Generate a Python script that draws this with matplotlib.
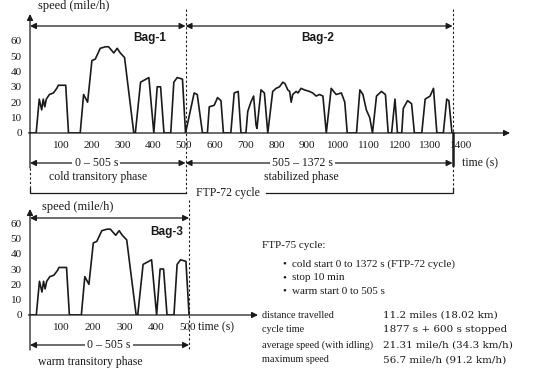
import numpy as np
import matplotlib.pyplot as plt

plt.rcParams['font.family'] = ['Liberation Serif', 'DejaVu Serif']

# speed trace (time in s, speed in mile/h)
bag1_t = [0, 20, 30, 38, 43, 48, 53, 63, 76, 87, 92, 116, 125, 163, 174, 187, 201, 212, 228, 245,
          255, 272, 283, 293, 307, 337, 342, 359, 386, 402, 413, 424, 435, 457, 467, 478, 495, 505]
bag1_v = [0, 0, 22, 15, 22, 17, 22, 25, 26, 29, 31, 31, 0, 0, 25, 20, 47, 48, 55, 56,
          56, 52, 55, 52, 49, 0, 0, 33, 36, 0, 30, 30, 0, 0, 33, 36, 35, 0]
bag2_t = [505, 533, 543, 560, 576, 582, 598, 609, 620, 628, 652, 663, 676, 685, 701, 707, 717, 726, 734, 737,
          750, 761, 772, 788, 799, 810, 821, 828, 837, 843, 848, 853, 864, 870, 880, 891, 907, 918, 929, 940,
          951, 962, 978, 994, 1011, 1022, 1030, 1060, 1071, 1081, 1092, 1103, 1112, 1125, 1141, 1154, 1163, 1174, 1185, 1193,
          1207, 1212, 1226, 1239, 1248, 1272, 1283, 1299, 1310, 1321, 1342, 1353, 1360, 1370, 1372]
bag2_v = [0, 26, 25, 0, 0, 17, 18, 23, 21, 0, 0, 26, 27, 0, 0, 14, 20, 24, 5, 3,
          28, 26, 0, 27, 29, 30, 33, 32, 28, 27, 20, 25, 27, 26, 29, 28, 27, 26, 24, 25,
          24, 0, 29, 25, 26, 20, 0, 0, 28, 25, 15, 10, 0, 24, 27, 25, 0, 0, 22, 0,
          0, 16, 21, 19, 0, 0, 22, 24, 29, 0, 0, 22, 21, 0, 0]

xticks_top = [100, 200, 300, 400, 500, 600, 700, 800, 900, 1000, 1100, 1200, 1300, 1400]
xticks_bot = [100, 200, 300, 400, 500]
yticks = [0, 10, 20, 30, 40, 50, 60]

info_rows = [("distance travelled", "11.2 miles (18.02 km)"),
             ("cycle time", "1877 s + 600 s stopped"),
             ("average speed (with idling)", "21.31 mile/h (34.3 km/h)"),
             ("maximum speed", "56.7 mile/h (91.2 km/h)")]
bullets = ["cold start 0 to 1372 s (FTP-72 cycle)", "stop 10 min", "warm start 0 to 505 s"]

W, H = 541, 368
fig = plt.figure(figsize=(W / 100, H / 100), dpi=100)
ink = '#1a1a1a'
fs = 8.5
fst = 8


def px_axes(x0, y0, x1, y1):
    return fig.add_axes([x0 / W, 1 - y1 / H, (x1 - x0) / W, (y1 - y0) / H])


def setup(ax, xt):
    for s in ax.spines.values():
        s.set_visible(False)
    ax.set_xticks(xt)
    ax.set_yticks(yticks)
    ax.tick_params(length=0, labelsize=fst, colors=ink)
    ax.tick_params(axis='x', pad=6)
    ax.tick_params(axis='y', pad=6)
    ax.patch.set_alpha(0)


def arrow(ax, x0, y0, x1, y1, style='-|>', lw=0.9, ls='-'):
    ax.annotate('', xy=(x1, y1), xytext=(x0, y0), xycoords='data', annotation_clip=False,
                arrowprops=dict(arrowstyle=style, color=ink, lw=lw, ls=ls,
                                mutation_scale=9, shrinkA=0, shrinkB=0))


def line(ax, xs, ys, lw=0.9, ls='-'):
    ax.plot(xs, ys, color=ink, lw=lw, ls=ls, clip_on=False)


bag_font = dict(family='Liberation Sans', weight='bold', fontsize=8.5,
                ha='center', va='center', color=ink)

# ---------------- top: FTP-72 ----------------
ax1 = px_axes(30, 14, 510, 133)
ax1.set_xlim(0, 480 / 0.308)
ax1.set_ylim(0, 119 / 1.54)
setup(ax1, xticks_top)
ax1.plot(bag1_t, bag1_v, color=ink, lw=1.2)
ax1.plot(bag2_t, bag2_v, color=ink, lw=1.2)

def vt(ypx):
    return (133 - ypx) / 1.54

arrow(ax1, -5, 0, 480 / 0.308, 0)
arrow(ax1, 0, vt(168), 0, 119 / 1.54)
ax1.text(26, vt(6), 'speed (mile/h)', fontsize=9, color=ink, va='center')
arrow(ax1, 0, vt(26), 505, vt(26), style='<|-|>')
arrow(ax1, 505, vt(26), 1372, vt(26), style='<|-|>')
ax1.text(390, vt(38), 'Bag-1', **bag_font)
ax1.text(935, vt(38), 'Bag-2', **bag_font)
line(ax1, [505, 505], [vt(9), vt(195)], lw=0.8, ls=(0, (2, 2)))
line(ax1, [1372, 1372], [vt(9), vt(133)], lw=0.8, ls=(0, (2, 2)))
line(ax1, [1372, 1372], [0, vt(165)], lw=1.8)
line(ax1, [1372, 1372], [vt(165), vt(192)], lw=0.8, ls=(0, (2, 2)))
line(ax1, [0, 0], [vt(168), vt(192)], lw=0.8, ls=(0, (2, 2)))

arrow(ax1, 0, vt(163), 505, vt(163), style='<|-|>')
arrow(ax1, 505, vt(163), 1372, vt(163), style='<|-|>')
ax1.text(215, vt(163), '0 – 505 s', fontsize=fs, ha='center', va='center', color=ink,
         bbox=dict(fc='white', ec='none', pad=1.5))
ax1.text(885, vt(163), '505 – 1372 s', fontsize=fs, ha='center', va='center', color=ink,
         bbox=dict(fc='white', ec='none', pad=1.5))
ax1.text(1403, vt(163), 'time (s)', fontsize=fs, va='center', color=ink)
ax1.text(220, vt(177), 'cold transitory phase', fontsize=fs, ha='center', va='center', color=ink)
ax1.text(880, vt(177), 'stabilized phase', fontsize=fs, ha='center', va='center', color=ink)
line(ax1, [0, 0, 505], [vt(188), vt(193), vt(193)])
line(ax1, [765, 1372, 1372], [vt(193), vt(193), vt(188)])
ax1.text(540, vt(193), 'FTP-72 cycle', fontsize=fs, va='center', color=ink)

# ---------------- bottom: Bag-3 ----------------
ax2 = px_axes(30, 209, 258, 315)
ax2.set_xlim(0, 228 / 0.315)
ax2.set_ylim(0, 106 / 1.533)
setup(ax2, xticks_bot)
ax2.plot(bag1_t, bag1_v, color=ink, lw=1.2)

def vb(ypx):
    return (315 - ypx) / 1.533

arrow(ax2, -5, 0, 228 / 0.315, 0)
arrow(ax2, 0, vb(350), 0, 106 / 1.533)
ax2.text(38, vb(207), 'speed (mile/h)', fontsize=9, color=ink, va='center')
arrow(ax2, 0, vb(218), 505, vb(218), style='<|-|>')
ax2.text(435, vb(232), 'Bag-3', **bag_font)
line(ax2, [505, 505], [vb(200), vb(350)], lw=0.8, ls=(0, (2, 2)))
ax2.text(533, vb(327), 'time (s)', fontsize=fs, va='center', color=ink)
arrow(ax2, 0, vb(345), 505, vb(345), style='<|-|>')
ax2.text(250, vb(345), '0 – 505 s', fontsize=fs, ha='center', va='center', color=ink,
         bbox=dict(fc='white', ec='none', pad=1.5))
ax2.text(190, vb(362), 'warm transitory phase', fontsize=fs, ha='center', va='center', color=ink)

# ---------------- text block ----------------
fig.text(262 / W, 1 - 245 / H, 'FTP-75 cycle:', fontsize=8, va='center', color=ink)
for i, b in enumerate(bullets):
    y = 1 - (264 + 13.5 * i) / H
    fig.text(282 / W, y, '•', fontsize=8, va='center', color=ink)
    fig.text(292 / W, y, b, fontsize=8, va='center', color=ink)
for i, (k, v) in enumerate(info_rows):
    y = 1 - (315 + 15 * i) / H
    fig.text(262 / W, y, k, fontsize=7.3, va='center', color=ink)
    fig.text(383 / W, y, v, fontsize=7.5, family='DejaVu Serif', va='center', color=ink)

fig.savefig('out.png', dpi=100)
